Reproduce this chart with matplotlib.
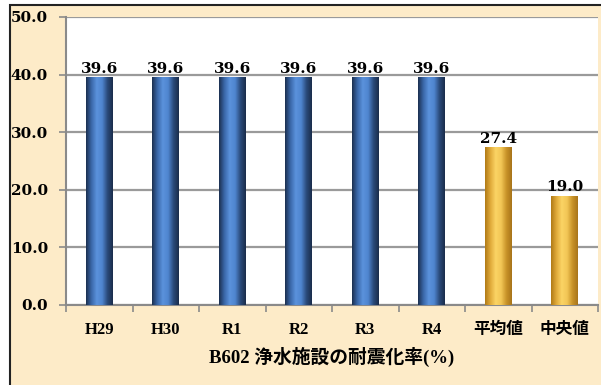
import matplotlib
matplotlib.use("Agg")
import matplotlib.pyplot as plt
from matplotlib.patches import Rectangle
from matplotlib.colors import LinearSegmentedColormap
import numpy as np

plt.rcParams['font.family'] = ['Liberation Serif', 'Noto Sans CJK JP']
num_font = ['DejaVu Serif']

categories = ["H29", "H30", "R1", "R2", "R3", "R4", "平均値", "中央値"]
values = [39.6, 39.6, 39.6, 39.6, 39.6, 39.6, 27.4, 19.0]
kinds = ["blue"] * 6 + ["gold"] * 2
title = "B602 浄水施設の耐震化率(%)"

blue_cmap = LinearSegmentedColormap.from_list(
    "b", ["#1b2f4f", "#3a67a8", "#5b92dc", "#4f85cf", "#2a4a7a", "#1a2c4a"])
gold_cmap = LinearSegmentedColormap.from_list(
    "g", ["#b07a16", "#e0aa3a", "#fbd465", "#f2c655", "#c89228", "#a8741a"])

fig = plt.figure(figsize=(6.01, 3.85), dpi=100)
fig.patch.set_facecolor("white")
bg = Rectangle((10.5 / 601, -0.01), 1.0, 1 - 4.5 / 385 + 0.01, transform=fig.transFigure,
               facecolor="#fdebc8", edgecolor="#222222", linewidth=1.5, zorder=-10)
fig.patches.append(bg)

ax = fig.add_axes([66 / 601, 1 - 305 / 385, (598 - 66) / 601, (305 - 17) / 385])
ax.set_facecolor("white")
ax.set_zorder(1)

x = np.arange(len(categories))
bars = ax.bar(x, values, width=0.4, color="none", zorder=3)
grad = np.linspace(0, 1, 256).reshape(1, -1)
for b, k in zip(bars, kinds):
    x0, w, h = b.get_x(), b.get_width(), b.get_height()
    im = ax.imshow(grad, cmap=blue_cmap if k == "blue" else gold_cmap,
                   extent=[x0, x0 + w, 0, h], aspect="auto", zorder=3)
    im.set_clip_path(b)
    ax.text(x0 + w / 2, h + 0.2, f"{h:.1f}", ha="center", va="bottom",
            fontsize=11, fontweight="semibold", family=num_font, zorder=4)

ax.set_xlim(-0.5, len(categories) - 0.5)
ax.set_ylim(0, 50)
ax.set_yticks(np.arange(0, 51, 10))
ax.set_yticklabels([f"{v:.1f}" for v in np.arange(0, 51, 10)], fontsize=11,
                   fontweight="semibold", family=num_font)
ax.yaxis.grid(True, color="#9a9a9a", linewidth=1.6, zorder=1)
ax.set_axisbelow(True)

ax.set_xticks(np.arange(-0.5, len(categories), 1.0))
ax.set_xticklabels([])
ax.set_xticks(x, minor=True)
ax.set_xticklabels(categories, minor=True, fontsize=12, fontweight="bold")
ax.tick_params(axis="x", which="minor", length=0, pad=12)
ax.tick_params(axis="x", which="major", length=5, color="#8a8a8a", width=1.2)
ax.tick_params(axis="y", length=5, color="#8a8a8a", width=1.2, pad=8)

for s in ["top", "right"]:
    ax.spines[s].set_visible(False)
for s in ["left", "bottom"]:
    ax.spines[s].set_color("#8a8a8a")
    ax.spines[s].set_linewidth(1.5)

ax.set_xlabel(title, fontsize=13.5, fontweight="bold", labelpad=7)

fig.savefig("out.png", dpi=100, facecolor=fig.get_facecolor())
